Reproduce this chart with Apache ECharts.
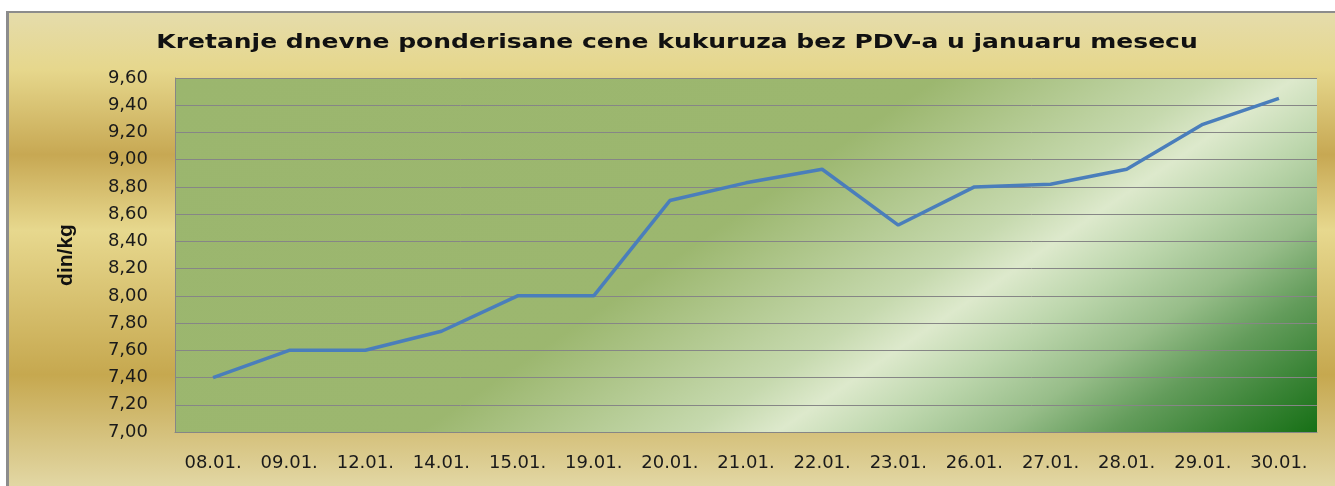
<!DOCTYPE html>
<html>
<head>
<meta charset="utf-8">
<script src="https://cdn.jsdelivr.net/npm/echarts@6/dist/echarts.min.js"></script>
<style>
  html, body { margin: 0; padding: 0; background: #fff; overflow: hidden; width: 1335px; height: 486px; }
  #chart {
    position: absolute;
    left: 6px;
    top: 11px;
    width: 1332px;
    height: 473px;
    border-left: 3px solid #8c8c8c;
    border-top: 2px solid #8c8c8c;
  }
</style>
</head>
<body>
<div id="chart"></div>
<script>
// podaci
var titleText = "Kretanje dnevne ponderisane cene kukuruza bez PDV-a u januaru mesecu";
var dates = ["08.01.", "09.01.", "12.01.", "14.01.", "15.01.", "19.01.", "20.01.", "21.01.",
  "22.01.", "23.01.", "26.01.", "27.01.", "28.01.", "29.01.", "30.01."];
var prices = [7.40, 7.60, 7.60, 7.74, 8.00, 8.00, 8.70, 8.83, 8.93, 8.52, 8.80, 8.82, 8.93, 9.26, 9.45];
var yMin = 7.0;
var yMax = 9.6;
var yStep = 0.2;

var chart = echarts.init(document.getElementById("chart"));

var option = {
  // zlatna pozadina
  backgroundColor: new echarts.graphic.LinearGradient(0, 0, 0, 1, [
    { offset: 0, color: "#e5dcab" },
    { offset: 0.12, color: "#e6d78c" },
    { offset: 0.3, color: "#c7a853" },
    { offset: 0.46, color: "#e7d88e" },
    { offset: 0.765, color: "#c6a84f" },
    { offset: 1, color: "#e2d7a4" },
  ]),
  animation: false,
  // naslov je rastegnut po sirini kao u originalu
  graphic: [
    {
      type: "text",
      x: 668,
      y: 30,
      scaleX: 1.25,
      style: {
        text: titleText,
        align: "center",
        verticalAlign: "middle",
        fontFamily: "DejaVu Sans",
        fontWeight: "bold",
        fontSize: 20,
        fill: "#111",
      },
    },
  ],
  grid: {
    left: 166,
    top: 65,
    right: 24,
    bottom: 54,
    show: true,
    borderWidth: 0,
    // zelena pozadina grafika
    backgroundColor: new echarts.graphic.LinearGradient(166, 65, 694, 838, [
      { offset: 0, color: "#9bb66e" },
      { offset: 0.46, color: "#9cb76f" },
      { offset: 0.625, color: "#c6d9ae" },
      { offset: 0.675, color: "#dde9cc" },
      { offset: 0.74, color: "#bcd6ac" },
      { offset: 0.81, color: "#97bd89" },
      { offset: 0.875, color: "#639c5b" },
      { offset: 0.94, color: "#3a8436" },
      { offset: 1, color: "#177016" },
    ], true),
  },
  xAxis: {
    type: "category",
    data: dates,
    boundaryGap: true,
    axisLine: { show: true, lineStyle: { color: "#868686", width: 1 } },
    axisTick: { show: false },
    axisLabel: {
      interval: 0,
      margin: 22,
      fontFamily: "DejaVu Sans",
      fontSize: 18,
      color: "#1a1a1a",
    },
  },
  yAxis: {
    type: "value",
    min: yMin,
    max: yMax,
    interval: yStep,
    name: "din/kg",
    nameLocation: "middle",
    nameGap: 98,
    nameRotate: 90,
    nameTextStyle: {
      fontFamily: "Liberation Sans Narrow, Liberation Sans",
      fontWeight: "bold",
      fontSize: 21,
      color: "#111",
    },
    axisLine: { show: true, lineStyle: { color: "#868686", width: 1 } },
    axisTick: { show: false },
    axisLabel: {
      margin: 27,
      fontFamily: "DejaVu Sans",
      fontSize: 18,
      color: "#1a1a1a",
      formatter: function (value) {
        return value.toFixed(2).replace(".", ",");
      },
    },
    splitLine: {
      show: true,
      lineStyle: { color: "#868686", width: 1, type: "solid" },
    },
  },
  series: [
    {
      type: "line",
      data: prices,
      symbol: "none",
      lineStyle: { color: "#4a7ebb", width: 3.5 },
    },
  ],
};

chart.setOption(option);
</script>
</body>
</html>
